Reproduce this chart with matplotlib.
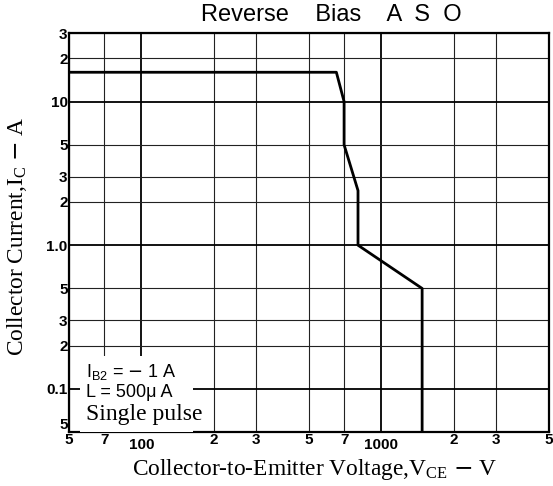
import numpy as np
import matplotlib.pyplot as plt
from matplotlib.patches import Rectangle

# reverse bias ASO boundary
vce = [50, 650, 700, 700, 800, 800, 1480, 1480]
ic = [16, 16, 10, 5, 2.4, 1.0, 0.5, 0.05]

x_ticks = [50, 70, 100, 200, 300, 500, 700, 1000, 2000, 3000, 5000]
x_labels = ['5', '7', '100', '2', '3', '5', '7', '1000', '2', '3', '5']
y_ticks = [0.05, 0.1, 0.2, 0.3, 0.5, 1.0, 2, 3, 5, 10, 20, 30]
y_labels = ['5', '0.1', '2', '3', '5', '1.0', '2', '3', '5', '10', '2', '3']

fig = plt.figure(figsize=(5.53, 4.86), dpi=100)
ax = fig.add_axes([0.1248, 0.111, 0.8680, 0.821])
ax.set_xscale('log')
ax.set_yscale('log')
ax.set_xlim(50, 5000)
ax.set_ylim(0.05, 30)

ax.xaxis.set_minor_locator(plt.NullLocator())
ax.yaxis.set_minor_locator(plt.NullLocator())
ax.set_xticks(x_ticks)
ax.set_xticklabels(x_labels)
ax.set_yticks(y_ticks)
ax.set_yticklabels(y_labels)

tick_font = dict(family='Liberation Sans', weight='bold', size=11)
for lab in ax.get_xticklabels() + ax.get_yticklabels():
    lab.set_fontproperties(tick_font)
ax.tick_params(length=0, pad=1)
# decade labels sit a bit lower on the x axis
for t, v in zip(ax.xaxis.get_major_ticks(), x_ticks):
    if v in (100, 1000):
        t.set_pad(4)
# bottom "5" of the current axis sits above the corner
ax.get_yticklabels()[0].set_va('bottom')

ax.grid(True, color='#222222', lw=0.8)
for gl, v in zip(ax.xaxis.get_gridlines(), x_ticks):
    if v in (100, 1000):
        gl.set_linewidth(1.3)
        gl.set_color('black')
for gl, v in zip(ax.yaxis.get_gridlines(), y_ticks):
    if v in (0.1, 1.0, 10):
        gl.set_linewidth(1.3)
        gl.set_color('black')

for s in ax.spines.values():
    s.set_linewidth(1.6)

ax.plot(vce, ic, color='black', lw=2.0, zorder=4)

# white patch behind the conditions text
ax.add_patch(Rectangle((0.023, 0), 0.236, 0.19, transform=ax.transAxes,
                       facecolor='white', edgecolor='none', zorder=3))
ax.text(0.035, 0.150, r'I$_{\mathregular{B2}}$ = $-$ 1 A', transform=ax.transAxes,
        family='Liberation Sans', size=13, va='center', zorder=5)
ax.text(0.035, 0.100, 'L = 500\u03bc A', transform=ax.transAxes,
        family='Liberation Sans', size=13, va='center', zorder=5)
ax.text(0.035, 0.043, 'Single pulse', transform=ax.transAxes,
        family='Liberation Serif', size=17, va='center', zorder=5)

fig.text(0.600, 0.969, 'Reverse    Bias    A  S  O', ha='center', va='center',
         family='Liberation Sans', size=17)
fig.text(0.568, 0.0226, r'Collector-to-Emitter Voltage,V$_{\mathregular{CE}}$ $-$ V',
         ha='center', va='baseline', family='Liberation Serif', size=16.8)
fig.text(0.030, 0.513, r'Collector Current,I$_{\mathregular{C}}$ $-$ A',
         ha='center', va='center', rotation=90, family='Liberation Serif', size=16.8)

fig.savefig('out.png', dpi=100)
